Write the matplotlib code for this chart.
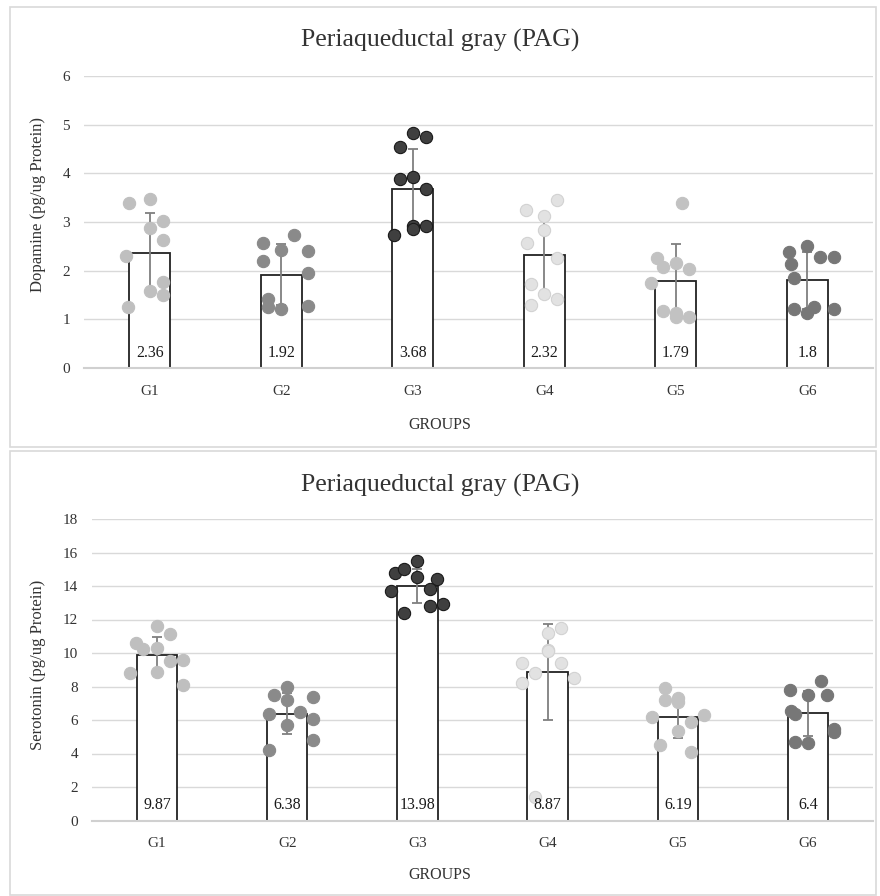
import matplotlib
matplotlib.use("Agg")
import matplotlib.pyplot as plt
from matplotlib.patches import Rectangle
import numpy as np

plt.rcParams['font.family'] = ['Liberation Serif', 'DejaVu Serif']

groups = ["G1", "G2", "G3", "G4", "G5", "G6"]

# ---- Dopamine panel ----
da_means = [2.36, 1.92, 3.68, 2.32, 1.79, 1.80]
da_err = [0.82, 0.62, 0.82, 0.79, 0.75, 0.59]
da_points = [
    [3.40, 3.48, 3.03, 2.88, 2.62, 2.30, 1.76, 1.58, 1.49, 1.25],
    [2.57, 2.73, 2.43, 2.40, 2.19, 1.96, 1.42, 1.25, 1.21, 1.27],
    [4.83, 4.75, 4.55, 3.88, 3.92, 3.68, 2.91, 2.86, 2.91, 2.73],
    [3.45, 3.25, 3.12, 2.84, 2.57, 2.25, 1.73, 1.53, 1.42, 1.29],
    [3.40, 2.27, 2.16, 2.07, 2.04, 1.75, 1.18, 1.14, 1.05, 1.05],
    [2.51, 2.38, 2.28, 2.28, 2.14, 1.85, 1.21, 1.25, 1.14, 1.21],
]
da_jitter = [
    [-0.16, 0.00, 0.10, 0.00, 0.10, -0.18, 0.10, 0.00, 0.10, -0.165],
    [-0.14, 0.10, 0.00, 0.20, -0.14, 0.20, -0.10, -0.10, 0.00, 0.20],
    [0.00, 0.10, -0.10, -0.10, 0.00, 0.10, 0.00, 0.00, 0.10, -0.14],
    [0.10, -0.14, 0.00, 0.00, -0.13, 0.10, -0.10, 0.00, 0.10, -0.10],
    [0.05, -0.14, 0.00, -0.10, 0.10, -0.19, -0.10, 0.00, 0.00, 0.10],
    [0.00, -0.14, 0.10, 0.20, -0.12, -0.10, -0.10, 0.05, 0.00, 0.20],
]

# ---- Serotonin panel ----
st_means = [9.87, 6.38, 13.98, 8.87, 6.19, 6.40]
st_err = [1.07, 1.22, 1.01, 2.85, 1.25, 1.34]
st_points = [
    [11.63, 11.12, 10.62, 10.22, 10.30, 8.89, 9.50, 9.58, 8.79, 8.09],
    [7.99, 7.49, 7.39, 7.19, 6.38, 6.46, 6.08, 5.68, 4.79, 4.19],
    [15.49, 14.80, 15.00, 14.52, 14.42, 13.70, 13.80, 12.81, 12.91, 12.41],
    [11.51, 11.21, 10.18, 9.38, 9.38, 8.83, 8.49, 8.19, 1.39, 10.14],
    [7.93, 7.19, 7.29, 7.09, 6.20, 6.30, 5.86, 5.36, 4.49, 4.09],
    [8.33, 7.79, 7.49, 7.49, 6.54, 6.36, 5.44, 5.26, 4.69, 4.61],
]
st_jitter = [
    [0.00, 0.10, -0.16, -0.11, 0.00, 0.00, 0.10, 0.20, -0.21, 0.20],
    [0.00, -0.10, 0.20, 0.00, -0.14, 0.10, 0.20, 0.00, 0.20, -0.14],
    [0.00, -0.175, -0.10, 0.00, 0.15, -0.20, 0.10, 0.10, 0.20, -0.10],
    [0.10, 0.00, 0.00, -0.20, 0.10, -0.10, 0.20, -0.20, -0.10, 0.00],
    [-0.10, -0.10, 0.00, 0.00, -0.20, 0.20, 0.10, 0.00, -0.14, 0.10],
    [0.10, -0.14, 0.00, 0.15, -0.13, -0.10, 0.20, 0.20, -0.10, 0.00],
]

point_face = ["#bfbfbf", "#8a8a8a", "#3f3f3f", "#e2e2e2", "#c2c2c2", "#777777"]
point_edge = ["#bfbfbf", "#8a8a8a", "#1a1a1a", "#d2d2d2", "#c2c2c2", "#777777"]

W, H = 880, 896
fig = plt.figure(figsize=(W / 100, H / 100), dpi=100)


def fx(px):
    return px / W


def fy(py):
    return 1 - py / H


# panel frames
for (x0, y0, x1, y1) in [(10, 7, 876, 447), (10, 451, 876, 895)]:
    fig.patches.append(Rectangle((fx(x0), fy(y1)), fx(x1) - fx(x0), fy(y0) - fy(y1),
                                 transform=fig.transFigure, fill=False,
                                 edgecolor="#d9d9d9", linewidth=1.2))


def fmt(v):
    s = f"{v:.2f}".rstrip("0").rstrip(".")
    return s


def panel(left_px, right_px, top_px, bottom_px, means, err, points, jitter,
          ymax, ylabel, title, title_y, ylabel_x, ylabel_y, xlabel_y):
    ax = fig.add_axes([fx(left_px), fy(bottom_px), fx(right_px) - fx(left_px),
                       fy(top_px) - fy(bottom_px)])
    x = np.arange(len(groups))
    ax.set_xlim(-0.5, len(groups) - 0.5)
    ax.set_ylim(0, ymax)
    ax.set_yticks(np.arange(0, ymax + 0.01, 1 if ymax <= 6 else 2))
    ax.yaxis.grid(True, color="#d9d9d9", linewidth=1.0)
    ax.set_axisbelow(True)
    for s in ["top", "right", "left"]:
        ax.spines[s].set_visible(False)
    ax.spines["bottom"].set_color("#d0d0d0")
    ax.spines["bottom"].set_linewidth(1.5)
    ax.tick_params(length=0, labelsize=11, colors="#333333", pad=10)
    ax.tick_params(axis="x", pad=12)
    ax.set_xticks(x)
    ax.set_xticklabels(groups)
    ax.bar(x, means, width=0.31, color="white", edgecolor="#222222", linewidth=1.3, zorder=2)
    ax.errorbar(x, means, yerr=err, fmt="none", ecolor="#7f7f7f", elinewidth=1.3,
                capsize=3.5, capthick=1.3, zorder=3)
    for i in range(len(groups)):
        xs = x[i] + np.array(jitter[i])
        ax.scatter(xs, points[i], s=78, color=point_face[i], edgecolors=point_edge[i],
                   linewidths=0.8, zorder=4, clip_on=False)
        ax.text(x[i], ymax * 0.05, fmt(means[i]),
                ha="center", va="center", fontsize=11.5, color="#1a1a1a", zorder=5)
    fig.text(fx(ylabel_x), fy(ylabel_y), ylabel, rotation=90, ha="center", va="center",
             fontsize=12, color="#333333")
    fig.text(fx(440), fy(title_y), title, ha="center", va="center", fontsize=18.5,
             color="#333333")
    fig.text(fx(440), fy(xlabel_y), "GROUPS", ha="center", va="center", fontsize=11.5,
             color="#333333")
    return ax


panel(84, 873, 76, 368, da_means, da_err, da_points, da_jitter, 6,
      "Dopamine (pg/ug Protein)", "Periaqueductal gray (PAG)", 40, 38, 205, 425)
panel(92, 873, 519, 820.5, st_means, st_err, st_points, st_jitter, 18,
      "Serotonin (pg/ug Protein)", "Periaqueductal gray (PAG)", 485, 38, 665, 875)

fig.savefig("out.png", dpi=100)
